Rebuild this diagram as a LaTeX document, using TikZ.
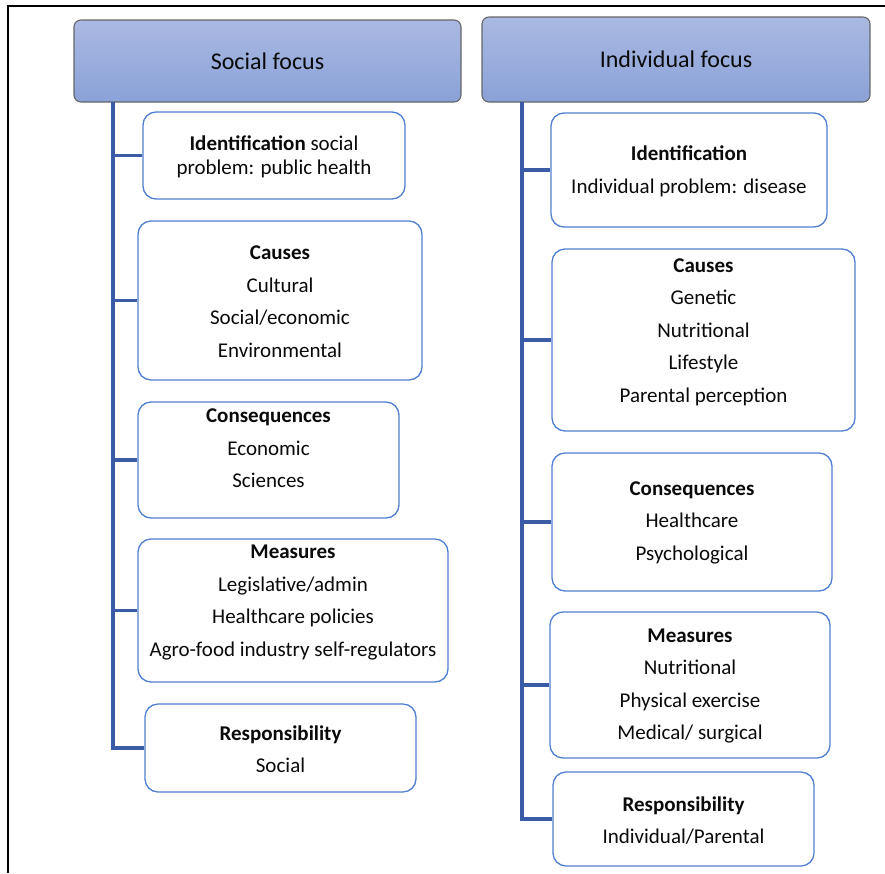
\documentclass[tikz,border=0pt]{standalone}
\usepackage{fontspec}
\setmainfont{Carlito}
\definecolor{boxline}{HTML}{4F7FD2}
\definecolor{trunk}{HTML}{3A5CA6}
\definecolor{hdtop}{HTML}{AAB9E2}
\definecolor{hdbot}{HTML}{8AA2D8}
\definecolor{hdline}{HTML}{666666}
\definecolor{txt}{HTML}{0A0A0A}
\begin{document}
\begin{tikzpicture}[x=1pt,y=-1pt,
  header/.style={draw=hdline, line width=1.1pt, rounded corners=7pt, top color=hdtop, bottom color=hdbot,
    inner sep=0pt, text=txt, font=\fontsize{24}{28}\selectfont},
  itembox/.style={draw=boxline, line width=1.3pt, rounded corners=13pt, fill=white, inner sep=0pt},
  itemtext/.style={align=center, inner sep=0pt, text=txt, font=\fontsize{21}{32.5}\selectfont},
  branch/.style={draw=trunk, line width=3.2pt, line join=miter}
]
\useasboundingbox (0,0) rectangle (885,873);
% frame
\draw[line width=1.3pt, black] (8,873) -- (8,6) -- (885,6);

% ---- left column ----
\node[header, minimum width=387pt, minimum height=82pt] (L0) at (267.5,61) {Social focus};
\coordinate (Ltop) at (113,102);

\node[itembox, minimum width=262pt, minimum height=87pt] (L1) at (274,155.5) {};
\node[itemtext, font=\fontsize{21}{24}\selectfont] (L1t) at (274,156.5) {\textbf{Identification} social\\problem: public health};

\node[itembox, minimum width=284pt, minimum height=159pt] (L2) at (280,300.5) {};
\node[itemtext] (L2t) at (280,301.5) {\textbf{Causes}\\Cultural\\Social/economic\\Environmental};

\node[itembox, minimum width=261pt, minimum height=116pt] (L3) at (268.5,460) {};
\node[itemtext] (L3t) at (268.5,448.5) {\textbf{Consequences}\\Economic\\Sciences};

\node[itembox, minimum width=310pt, minimum height=143pt] (L4) at (293,610.5) {};
\node[itemtext] (L4t) at (293,602.5) {\textbf{Measures}\\Legislative/admin\\Healthcare policies\\Agro-food industry self-regulators};

\node[itembox, minimum width=271pt, minimum height=88pt] (L5) at (280.5,748) {};
\node[itemtext] (L5t) at (280.5,749) {\textbf{Responsibility}\\Social};

\draw[branch] (Ltop) -- (Ltop |- L5.west) -- (L5.west);
\draw[branch] (Ltop |- L1.west) -- (L1.west);
\draw[branch] (Ltop |- L2.west) -- (L2.west);
\draw[branch] (Ltop |- L3.west) -- (L3.west);
\draw[branch] (Ltop |- L4.west) -- (L4.west);

% ---- right column ----
\node[header, minimum width=388pt, minimum height=85pt] (R0) at (676,59.5) {Individual focus};
\coordinate (Rtop) at (522,102);

\node[itembox, minimum width=276pt, minimum height=114pt] (R1) at (689,170) {};
\node[itemtext] (R1t) at (689,171.5) {\textbf{Identification}\\Individual problem: disease};

\node[itembox, minimum width=303pt, minimum height=182pt] (R2) at (703.5,340) {};
\node[itemtext] (R2t) at (703.5,332) {\textbf{Causes}\\Genetic\\Nutritional\\Lifestyle\\Parental perception};

\node[itembox, minimum width=280pt, minimum height=138pt] (R3) at (692,522) {};
\node[itemtext] (R3t) at (692,522.5) {\textbf{Consequences}\\Healthcare\\Psychological};

\node[itembox, minimum width=280pt, minimum height=146pt] (R4) at (690,685) {};
\node[itemtext] (R4t) at (690,686) {\textbf{Measures}\\Nutritional\\Physical exercise\\Medical/ surgical};

\node[itembox, minimum width=261pt, minimum height=94pt] (R5) at (683.5,819) {};
\node[itemtext] (R5t) at (683.5,820.5) {\textbf{Responsibility}\\Individual/Parental};

\draw[branch] (Rtop) -- (Rtop |- R5.west) -- (R5.west);
\draw[branch] (Rtop |- R1.west) -- (R1.west);
\draw[branch] (Rtop |- R2.west) -- (R2.west);
\draw[branch] (Rtop |- R3.west) -- (R3.west);
\draw[branch] (Rtop |- R4.west) -- (R4.west);
\end{tikzpicture}
\end{document}
